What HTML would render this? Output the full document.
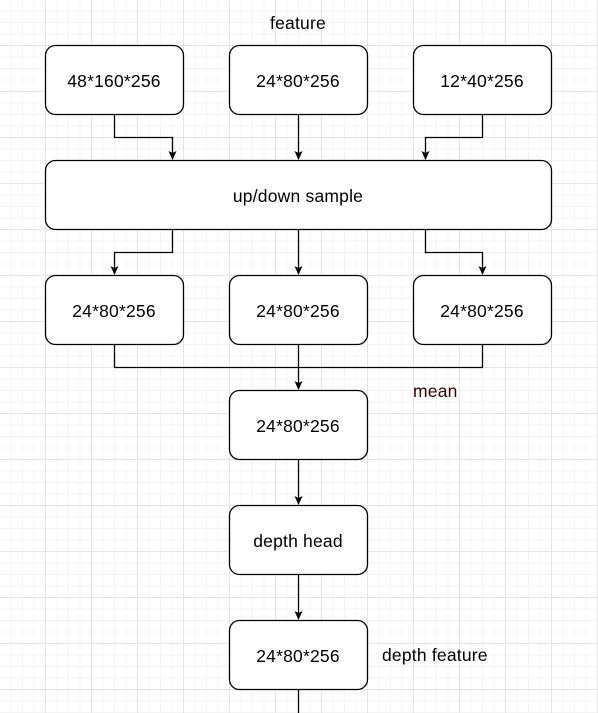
<!DOCTYPE html><html><head><style>
body{margin:0;width:598px;height:713px;overflow:hidden;background:#fff;
background-image:linear-gradient(#e4e4e4 1px,transparent 1px),linear-gradient(90deg,#e4e4e4 1px,transparent 1px),linear-gradient(#f4f4f4 1px,transparent 1px),linear-gradient(90deg,#f4f4f4 1px,transparent 1px);
background-size:46px 46px,46px 46px,11.5px 11.5px,11.5px 11.5px;background-position:-1px -1px;}
</style></head><body>
<svg width="598" height="713" style="position:absolute;left:0;top:0" font-family="Liberation Sans, sans-serif" font-size="17.5" letter-spacing="0.2">
<defs><marker id="a" markerWidth="10" markerHeight="10" refX="8" refY="4" orient="auto" markerUnits="userSpaceOnUse"><path d="M0,0 L9,4 L0,8 L2,4 z" fill="#000"/></marker></defs>
<g fill="#fff" stroke="#000" stroke-width="1.3">
<rect x="45.5" y="45.5" width="138" height="69" rx="10"/>
<rect x="229.5" y="45.5" width="138" height="69" rx="10"/>
<rect x="413.5" y="45.5" width="138" height="69" rx="10"/>
<rect x="45.5" y="160.5" width="506" height="69" rx="10"/>
<rect x="45.5" y="275.5" width="138" height="69" rx="10"/>
<rect x="229.5" y="275.5" width="138" height="69" rx="10"/>
<rect x="413.5" y="275.5" width="138" height="69" rx="10"/>
<rect x="229.5" y="390.5" width="138" height="69" rx="10"/>
<rect x="229.5" y="505.5" width="138" height="69" rx="10"/>
<rect x="229.5" y="620.5" width="138" height="69" rx="10"/>
</g>
<g fill="none" stroke="#000" stroke-width="1.3">
<path d="M114.5 115V137.5H172.5V159" marker-end="url(#a)"/>
<path d="M298.5 115V159" marker-end="url(#a)"/>
<path d="M482.5 115V137.5H425.5V159" marker-end="url(#a)"/>
<path d="M172.5 230V252.5H114.5V274" marker-end="url(#a)"/>
<path d="M298.5 230V274" marker-end="url(#a)"/>
<path d="M425.5 230V252.5H482.5V274" marker-end="url(#a)"/>
<path d="M114.5 345V367.5H482.5V345"/>
<path d="M298.5 345V389" marker-end="url(#a)"/>
<path d="M298.5 460V504" marker-end="url(#a)"/>
<path d="M298.5 575V619" marker-end="url(#a)"/>
<path d="M298.5 690V713"/>
</g>
<g text-anchor="middle" fill="#000">
<text x="298" y="29">feature</text>
<text x="114" y="87">48*160*256</text>
<text x="298" y="87">24*80*256</text>
<text x="482" y="87">12*40*256</text>
<text x="298" y="202">up/down sample</text>
<text x="114" y="317">24*80*256</text>
<text x="298" y="317">24*80*256</text>
<text x="482" y="317">24*80*256</text>
<text x="298" y="432">24*80*256</text>
<text x="298" y="547">depth head</text>
<text x="298" y="662">24*80*256</text>
</g>
<text x="413" y="397" fill="#330000">mean</text>
<text x="382" y="661">depth feature</text>
</svg>
</body></html>
